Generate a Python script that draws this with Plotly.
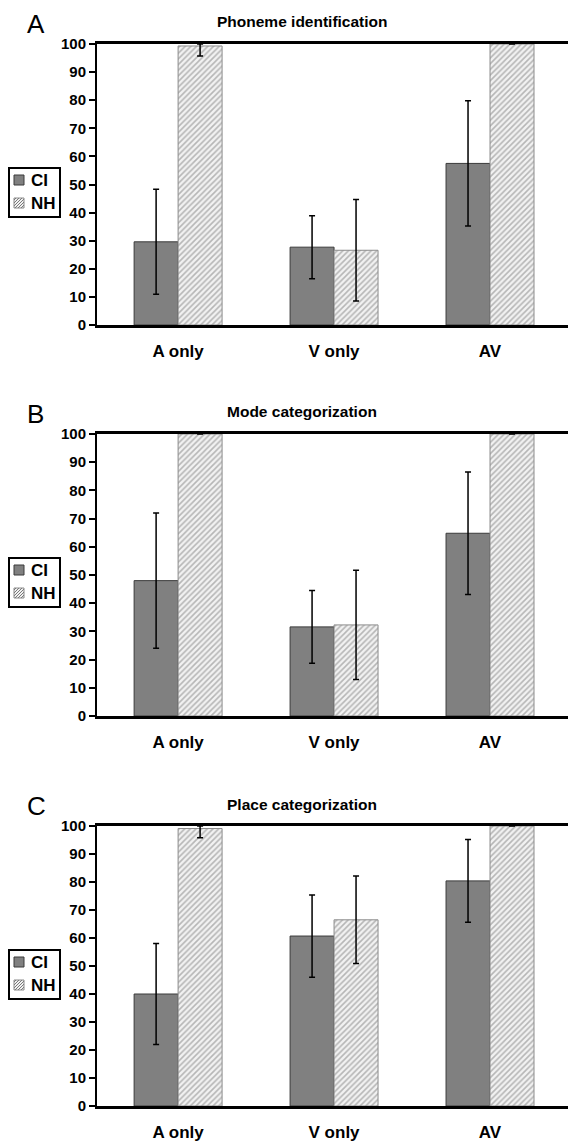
import plotly.graph_objects as go

W, H = 568, 1142

categories = ["A only", "V only", "AV"]
panel_letters = ["A", "B", "C"]
panel_titles = ["Phoneme identification", "Mode categorization", "Place categorization"]
legend_labels = ["CI", "NH"]

# Panel A: Phoneme identification
ci_a = [29.6, 27.7, 57.5]
ci_a_err = [18.7, 11.2, 22.3]
nh_a = [99.3, 26.6, 100]
nh_a_err_plus = [0.7, 18.1, 0]
nh_a_err_minus = [3.6, 18.1, 0]

# Panel B: Mode categorization
ci_b = [48.0, 31.6, 64.8]
ci_b_err = [24.0, 12.9, 21.7]
nh_b = [100, 32.3, 100]
nh_b_err_plus = [0, 19.4, 0]
nh_b_err_minus = [0, 19.4, 0]

# Panel C: Place categorization
ci_c = [40.0, 60.7, 80.4]
ci_c_err = [18.0, 14.7, 14.8]
nh_c = [99.1, 66.5, 100]
nh_c_err_plus = [0.9, 15.6, 0]
nh_c_err_minus = [3.3, 15.6, 0]

yticks = [0, 10, 20, 30, 40, 50, 60, 70, 80, 90, 100]

panels = [
    (ci_a, ci_a_err, nh_a, nh_a_err_plus, nh_a_err_minus),
    (ci_b, ci_b_err, nh_b, nh_b_err_plus, nh_b_err_minus),
    (ci_c, ci_c_err, nh_c, nh_c_err_plus, nh_c_err_minus),
]

# pixel geometry of each plot area (top, bottom)
plot_px = [(44, 325), (434, 716), (826, 1106)]
left_px = 97

FONT = "Liberation Sans, Arial, sans-serif"
CI_COLOR = "#808080"
HATCH_FG = "#7a7a7a"
HATCH_BG = "#f2f2f2"


def px(x):
    return x / W


def py(y):
    return 1 - y / H


fig = go.Figure()
shapes = []
annotations = []
layout = dict(
    width=W, height=H,
    margin=dict(l=0, r=0, t=0, b=0),
    paper_bgcolor="white", plot_bgcolor="white",
    barmode="group", bargap=0.436, bargroupgap=0,
    font=dict(family=FONT, color="black"),
    showlegend=False,
)

for i, (ci, cie, nh, nhp, nhm) in enumerate(panels):
    n = "" if i == 0 else str(i + 1)
    xa, ya = "x" + n, "y" + n
    fig.add_trace(go.Bar(
        x=categories, y=ci, name=legend_labels[0], xaxis=xa, yaxis=ya,
        marker=dict(color=CI_COLOR, line=dict(color="#3a3a3a", width=1)),
        error_y=dict(type="data", array=cie, color="black", thickness=1.5, width=3),
    ))
    fig.add_trace(go.Bar(
        x=categories, y=nh, name=legend_labels[1], xaxis=xa, yaxis=ya,
        marker=dict(color=HATCH_BG, line=dict(color="#8c8c8c", width=1),
                    pattern=dict(shape="/", fgcolor=HATCH_FG, bgcolor=HATCH_BG,
                                 size=4, solidity=0.4)),
        error_y=dict(type="data", array=nhp, arrayminus=nhm, symmetric=False,
                     color="black", thickness=1.5, width=3),
    ))
    top, bot = plot_px[i]
    layout["xaxis" + n] = dict(
        domain=[left_px / W, 1], anchor=ya, range=[-0.52, 2.5],
        showline=True, mirror=True, linecolor="black", linewidth=2.5,
        ticks="", showgrid=False, zeroline=False,
        tickfont=dict(size=17, family=FONT, weight="bold", color="black"),
        ticklabelstandoff=9, automargin=False,
    )
    layout["yaxis" + n] = dict(
        domain=[1 - bot / H, 1 - top / H], anchor=xa, range=[0, 100],
        tickvals=yticks, showline=True, linecolor="black", linewidth=2,
        ticks="outside", ticklen=6, tickwidth=2, tickcolor="black",
        showgrid=False, zeroline=False,
        tickfont=dict(size=15, family=FONT, weight="bold", color="black"),
        automargin=False,
    )
    annotations.append(dict(
        text=panel_titles[i], xref="paper", yref="paper",
        x=px(302), y=py(top - 22), xanchor="center", yanchor="middle",
        showarrow=False, font=dict(size=15.5, family=FONT, weight="bold", color="black"),
    ))
    annotations.append(dict(
        text=panel_letters[i], xref="paper", yref="paper",
        x=px(25), y=py(top - 20), xanchor="left", yanchor="middle",
        showarrow=False, font=dict(size=26, family=FONT, color="black"),
    ))

    # hand-drawn legend box (compact, like the original)
    lt = top + 124
    shapes.append(dict(type="rect", xref="paper", yref="paper",
                       x0=px(9), x1=px(60), y0=py(lt), y1=py(lt + 49),
                       line=dict(color="black", width=2), fillcolor="white", layer="above"))
    # CI swatch
    shapes.append(dict(type="rect", xref="paper", yref="paper",
                       x0=px(14), x1=px(24), y0=py(lt + 7), y1=py(lt + 17),
                       line=dict(color="#3a3a3a", width=1), fillcolor=CI_COLOR, layer="above"))
    # NH swatch with hatching
    sx0, sy0 = 14, lt + 30
    shapes.append(dict(type="rect", xref="paper", yref="paper",
                       x0=px(sx0), x1=px(sx0 + 10), y0=py(sy0), y1=py(sy0 + 10),
                       line=dict(color="#8c8c8c", width=1), fillcolor=HATCH_BG, layer="above"))
    segs = []
    for k in range(-8, 11, 3):
        xa0, ya0 = sx0 + k, sy0 + 10
        xa1, ya1 = sx0 + k + 10, sy0
        if xa0 < sx0:
            ya0 -= (sx0 - xa0)
            xa0 = sx0
        if xa1 > sx0 + 10:
            ya1 += (xa1 - (sx0 + 10))
            xa1 = sx0 + 10
        if xa1 - xa0 > 0.5:
            segs.append(f"M{px(xa0)},{py(ya0)} L{px(xa1)},{py(ya1)}")
    shapes.append(dict(type="path", xref="paper", yref="paper", path=" ".join(segs),
                       line=dict(color=HATCH_FG, width=1), layer="above"))
    annotations.append(dict(
        text=legend_labels[0], xref="paper", yref="paper",
        x=px(29), y=py(lt + 12), xanchor="left", yanchor="middle",
        showarrow=False, font=dict(size=17, family=FONT, weight="bold", color="black"),
    ))
    annotations.append(dict(
        text=legend_labels[1], xref="paper", yref="paper",
        x=px(29), y=py(lt + 35), xanchor="left", yanchor="middle",
        showarrow=False, font=dict(size=17, family=FONT, weight="bold", color="black"),
    ))

layout["shapes"] = shapes
layout["annotations"] = annotations
fig.update_layout(**layout)
fig.write_html("out.html", config={"displayModeBar": False},
               post_script="document.body.style.margin='0';document.body.style.padding='0';")
